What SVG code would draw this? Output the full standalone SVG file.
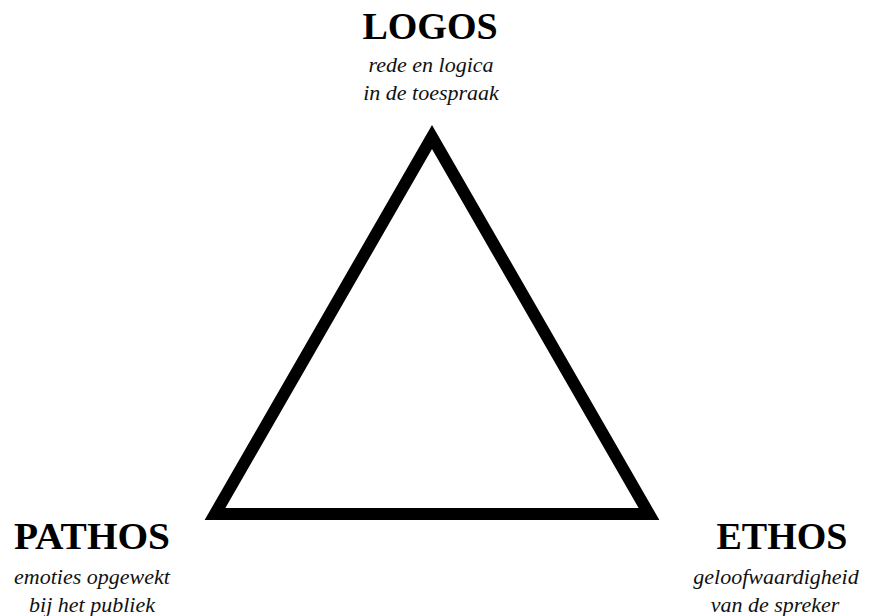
<svg xmlns="http://www.w3.org/2000/svg" width="872" height="616" viewBox="0 0 872 616">
<style>
.t{font-family:"Liberation Serif","Times New Roman",serif;font-weight:bold;font-size:38px;fill:#000;text-anchor:middle}
.s{font-family:"Liberation Serif","Times New Roman",serif;font-style:italic;font-size:22px;fill:#111;text-anchor:middle}
</style>
<rect width="872" height="616" fill="#fff"/>
<g id="connectors">
<polygon points="432,137 215,514 649,514" fill="none" stroke="#000" stroke-width="12" stroke-linejoin="miter"/>
</g>
<g id="logos">
<text class="t" x="430" y="39">LOGOS</text>
<text class="s" x="431" y="72">rede en logica</text>
<text class="s" x="431" y="100">in de toespraak</text>
</g>
<g id="pathos">
<text class="t" x="92" y="549" textLength="156" lengthAdjust="spacingAndGlyphs">PATHOS</text>
<text class="s" x="92" y="584">emoties opgewekt</text>
<text class="s" x="92" y="612">bij het publiek</text>
</g>
<g id="ethos">
<text class="t" x="782" y="549">ETHOS</text>
<text class="s" x="776" y="584">geloofwaardigheid</text>
<text class="s" x="775" y="612">van de spreker</text>
</g>
</svg>
